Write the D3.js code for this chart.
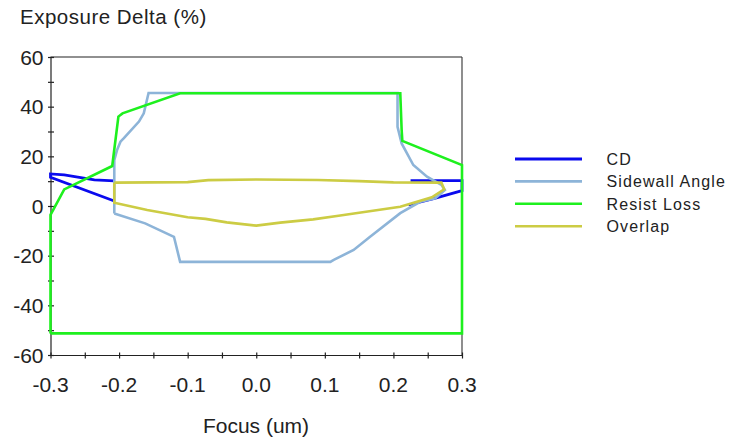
<!DOCTYPE html>
<html>
<head>
<meta charset="utf-8">
<script src="https://cdn.jsdelivr.net/npm/d3@7"></script>
<style>
  html, body { margin: 0; padding: 0; background: #fff; }
  svg { display: block; font-family: "Liberation Sans", Arial, sans-serif; }
</style>
</head>
<body>
<svg id="chart" width="734" height="442"></svg>
<script>
// ---- data ----
const seriesNames = ["CD", "Sidewall Angle", "Resist Loss", "Overlap"];
const seriesColors = ["#0a0aee", "#8db4d8", "#1ef01e", "#cccc44"];

// CD contour: only the parts not hidden under the Overlap contour (null = gap)
const cdPoints = [[-0.207,10.1],[-0.236,10.5],[-0.28,12.5],[-0.3,12.9],[-0.3,11.6],[-0.207,2],null,[0.225,10.2],[0.3,10.2],[0.3,6.2],[0.26,3.1],[0.222,0.4]];
const sidewallPoints = [[-0.207,-3],[-0.207,18.5],[-0.203,22.5],[-0.198,25.9],[-0.193,27.3],[-0.171,34],[-0.164,37.3],[-0.157,45.5],[0.206,45.5],[0.206,31.9],[0.212,25.2],[0.229,16.5],[0.249,11.8],[0.27,8.5],[0.275,6.4],[0.261,3.1],[0.239,1.7],[0.21,-2.9],[0.166,-12.4],[0.142,-17.7],[0.113,-21.7],[0.108,-22.5],[-0.111,-22.5],[-0.12,-12.4],[-0.162,-7],[-0.207,-3]];
const resistPoints = [[-0.3,-51.3],[-0.3,-3.6],[-0.28,6.7],[-0.21,16.1],[-0.201,36],[-0.195,37.3],[-0.111,45.4],[0.21,45.4],[0.212,30.6],[0.213,26.2],[0.3,16.5],[0.3,-51.3],[-0.3,-51.3]];
const overlapPoints = [[-0.207,9.4],[-0.1,9.6],[-0.07,10.4],[0,10.7],[0.09,10.5],[0.15,10],[0.2,9.5],[0.27,9.4],[0.274,6.7],[0.256,3.5],[0.21,-0.3],[0.12,-3.9],[0.083,-5.4],[0.035,-6.7],[0,-7.9],[-0.043,-6.6],[-0.074,-5.2],[-0.1,-4.5],[-0.159,-1.6],[-0.207,1.3],[-0.207,9.4]];

const xTickValues = [-0.3,-0.25,-0.2,-0.15,-0.1,-0.05,0,0.05,0.1,0.15,0.2,0.25,0.3];
const xLabelValues = [-0.3,-0.2,-0.1,0,0.1,0.2,0.3];
const xTickLabels = ["-0.3","-0.2","-0.1","0.0","0.1","0.2","0.3"];
const yTickValues = [-60,-50,-40,-30,-20,-10,0,10,20,30,40,50,60];
const yLabelValues = [-60,-40,-20,0,20,40,60];
const yTickLabels = ["-60","-40","-20","0","20","40","60"];
const xTitle = "Focus (um)";
const yTitle = "Exposure Delta (%)";

// ---- layout ----
const svg = d3.select("#chart");
const x = d3.scaleLinear().domain([-0.3, 0.3]).range([50.5, 462]);
const y = d3.scaleLinear().domain([-60, 60]).range([355, 57]);
const axisColor = "#222";

// frame (top + right)
svg.append("line").attr("x1", x(-0.3)).attr("x2", x(0.3)).attr("y1", y(60)).attr("y2", y(60))
  .attr("stroke", axisColor).attr("stroke-width", 1.2);
svg.append("line").attr("x1", x(0.3)).attr("x2", x(0.3)).attr("y1", y(60)).attr("y2", y(-60))
  .attr("stroke", "#444").attr("stroke-width", 1.2);

// x axis
const xAxisG = svg.append("g").attr("transform", `translate(0,${y(-60)})`)
  .call(d3.axisBottom(x).tickValues(xTickValues).tickSize(0).tickFormat(""));
xAxisG.select(".domain").attr("stroke", axisColor).attr("stroke-width", 1.2);
xAxisG.selectAll(".tick").append("line").attr("y1", -2.5).attr("y2", 3.5)
  .attr("stroke", axisColor).attr("stroke-width", 1.2);
svg.append("g").selectAll("text").data(xLabelValues).join("text")
  .attr("x", d => x(d)).attr("y", 391.5).attr("text-anchor", "middle")
  .attr("font-size", 21).attr("fill", "#222")
  .text((d, i) => xTickLabels[i]);

// y axis
const yAxisG = svg.append("g").attr("transform", `translate(${x(-0.3)},0)`)
  .call(d3.axisLeft(y).tickValues(yTickValues).tickSize(0).tickFormat(""));
yAxisG.select(".domain").attr("stroke", axisColor).attr("stroke-width", 1.2);
yAxisG.selectAll(".tick").append("line").attr("x1", -2.5).attr("x2", 3.5)
  .attr("stroke", axisColor).attr("stroke-width", 1.2);
svg.append("g").selectAll("text").data(yLabelValues).join("text")
  .attr("x", 43.5).attr("y", d => y(d) + 7.5).attr("text-anchor", "end")
  .attr("font-size", 21).attr("fill", "#222")
  .text((d, i) => yTickLabels[i]);

// titles
svg.append("text").attr("x", 20).attr("y", 24).attr("font-size", 20.5)
  .attr("letter-spacing", 0.5).attr("fill", "#222").text(yTitle);
svg.append("text").attr("x", 256).attr("y", 432.5).attr("text-anchor", "middle")
  .attr("font-size", 21).attr("fill", "#222").text(xTitle);

// series
const line = d3.line().defined(d => d !== null).x(d => x(d[0])).y(d => y(d[1]));
const allSeries = [cdPoints, sidewallPoints, resistPoints, overlapPoints];
const widths = [2.8, 2.6, 2.6, 2.6];
svg.append("g").selectAll("path").data(allSeries).join("path")
  .attr("d", d => line(d))
  .attr("fill", "none")
  .attr("stroke", (d, i) => seriesColors[i])
  .attr("stroke-width", (d, i) => widths[i])
  .attr("stroke-linejoin", "miter");

// legend
const legend = svg.append("g");
const lg = legend.selectAll("g").data(seriesNames).join("g")
  .attr("transform", (d, i) => `translate(0,${159 + i * 22.4})`);
lg.append("line").attr("x1", 515).attr("x2", 582).attr("y1", 0).attr("y2", 0)
  .attr("stroke", (d, i) => seriesColors[i]).attr("stroke-width", (d, i) => widths[i]);
lg.append("text").attr("x", 606.5).attr("y", 6).attr("font-size", 16)
  .attr("letter-spacing", 1.1).attr("fill", "#222").text(d => d);
</script>
</body>
</html>
